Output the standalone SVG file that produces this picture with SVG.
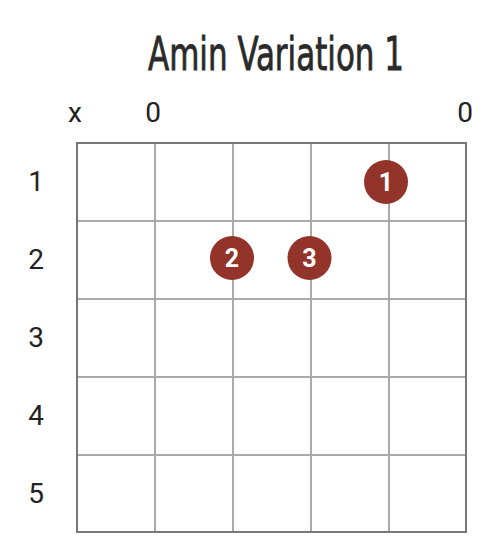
<svg xmlns="http://www.w3.org/2000/svg" width="498" height="548" viewBox="0 0 498 548">
<style>
.lbl{font-family:Roboto,"Liberation Sans",sans-serif;font-size:28px;fill:#222;text-anchor:middle}
.inner{stroke:#aaa;stroke-width:2;fill:none}
.outer{stroke:#777;stroke-width:2;fill:none}
.dot{fill:#93342a}
.num{font-family:Roboto,"Liberation Sans",sans-serif;font-size:25px;font-weight:bold;fill:#fff;text-anchor:middle}
</style>
<rect width="498" height="548" fill="#fff"/>
<text x="276" y="69.5" font-family="'DejaVu Sans Condensed','Liberation Sans Narrow',sans-serif" font-size="46" fill="#2a2a2a" stroke="#2a2a2a" stroke-width="0.8" text-anchor="middle" textLength="256" lengthAdjust="spacingAndGlyphs">Amin Variation 1</text>
<g id="grid">
<path class="inner" d="M155 143V532M233 143V532M311 143V532M389 143V532M77 221H466M77 299H466M77 377H466M77 455H466"/>
<rect class="outer" x="77" y="143" width="389" height="389"/>
</g>
<g id="top-labels">
<text class="lbl" x="75" y="122">x</text>
<text class="lbl" x="153" y="122">0</text>
<text class="lbl" x="465" y="122">0</text>
</g>
<g id="row-labels">
<text class="lbl" x="36" y="191">1</text>
<text class="lbl" x="36" y="269">2</text>
<text class="lbl" x="36" y="347">3</text>
<text class="lbl" x="36" y="425">4</text>
<text class="lbl" x="36" y="503">5</text>
</g>
<g id="finger1"><circle class="dot" cx="386" cy="182" r="22"/><text class="num" x="386" y="191">1</text></g>
<g id="finger2"><circle class="dot" cx="232" cy="258" r="22"/><text class="num" x="232" y="267">2</text></g>
<g id="finger3"><circle class="dot" cx="309.5" cy="258" r="22"/><text class="num" x="309.5" y="267">3</text></g>
</svg>
